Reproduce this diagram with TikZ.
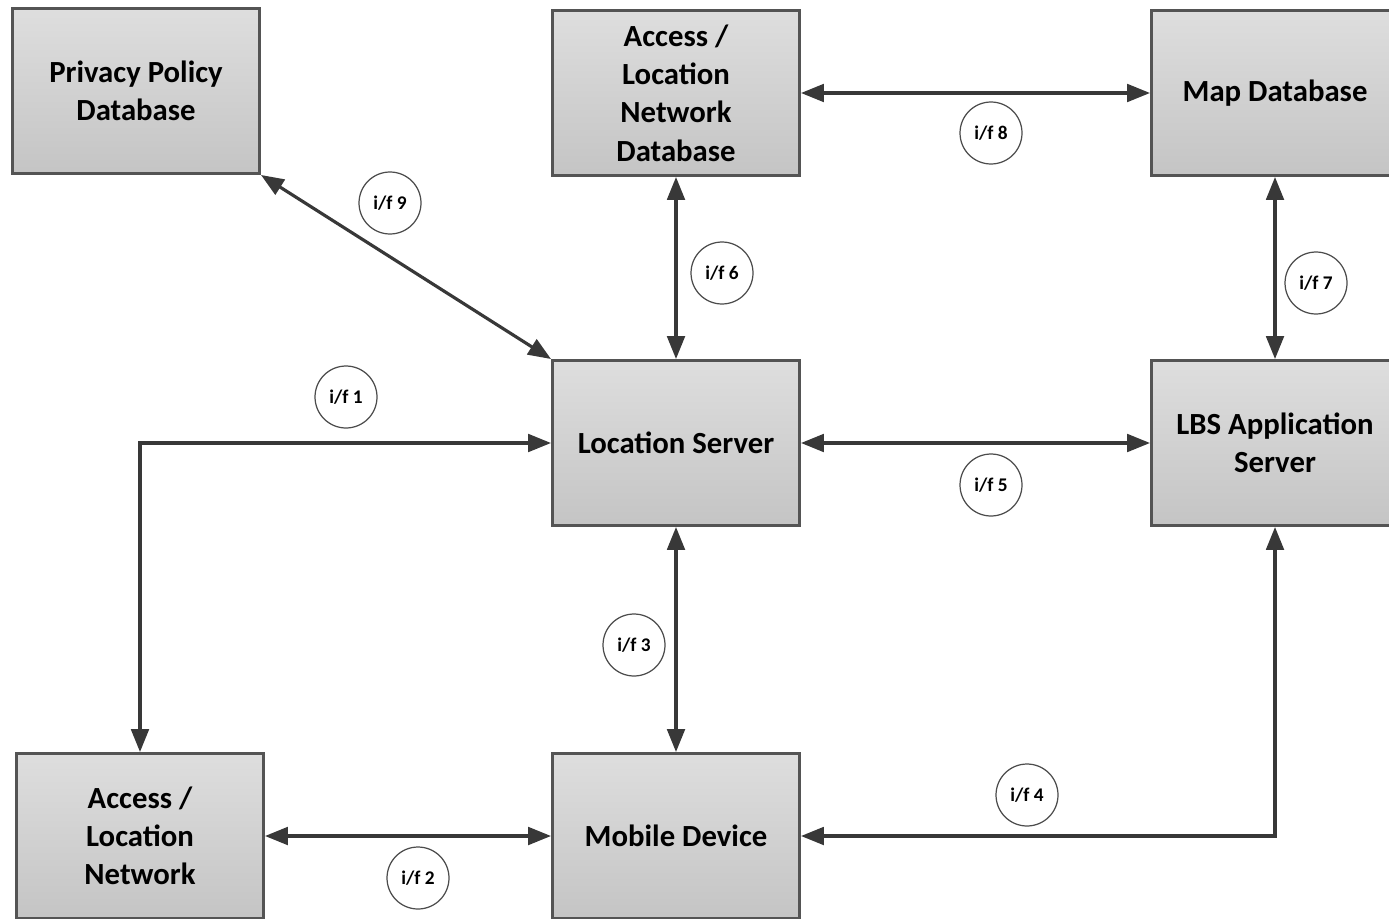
\documentclass[tikz,border=0pt]{standalone}
\usepackage{fontspec}
\setmainfont{Carlito}
\usetikzlibrary{arrows.meta}

\tikzset{
    unit/.style = {draw = black!67, line width = 1.7pt, top color = black!13, bottom color = black!23,
        minimum width = 4.94cm, minimum height = 3.3cm, align = center, inner sep = 2pt,
        font = \fontsize{17.5}{21.8}\selectfont\bfseries},
    link/.style = {draw = black!78, line width = 1.8pt, {Triangle[length = 13pt, width = 10pt]}-{Triangle[length = 13pt, width = 10pt]}},
    iface/.style = {circle, draw = black!70, line width = 0.7pt, fill = white, minimum size = 1.24cm,
        inner sep = 0pt, font = \fontsize{11}{13}\selectfont\bfseries}
}

\begin{document}
\begin{tikzpicture}[x = 0.02cm, y = -0.02cm]
        \useasboundingbox (0, 0) rectangle (1389, 919);
        % boxes
        \node [unit] (privacy) at (136, 91) {Privacy Policy\\Database};
        \node [unit] (netdb) at (676, 93) {Access /\\Location\\Network\\Database};
        \node [unit] (mapdb) at (1275, 93) {Map Database};
        \node [unit] (locserver) at (676, 443) {Location Server};
        \node [unit] (lbs) at (1275, 443) {LBS Application\\Server};
        \node [unit] (accessnet) at (140, 836) {Access /\\Location\\Network};
        \node [unit] (mobile) at (676, 836) {Mobile Device};
        % connectors
        \draw [link] (privacy.south east) -- (locserver.north west);
        \draw [link] (netdb.south) -- (locserver.north);
        \draw [link] (netdb.east) -- (mapdb.west);
        \draw [link] (mapdb.south) -- (lbs.north);
        \draw [link] (locserver.east) -- (lbs.west);
        \draw [link] (locserver.west) -| (accessnet.north);
        \draw [link] (locserver.south) -- (mobile.north);
        \draw [link] (accessnet.east) -- (mobile.west);
        \draw [link] (lbs.south) |- (mobile.east);
        % interface labels
        \node [iface] (if1) at (346, 397) {i/f 1};
        \node [iface] (if2) at (418, 878) {i/f 2};
        \node [iface] (if3) at (634, 645) {i/f 3};
        \node [iface] (if4) at (1027, 795) {i/f 4};
        \node [iface] (if5) at (991, 485) {i/f 5};
        \node [iface] (if6) at (722, 273) {i/f 6};
        \node [iface] (if7) at (1316, 283) {i/f 7};
        \node [iface] (if8) at (991, 133) {i/f 8};
        \node [iface] (if9) at (390, 203) {i/f 9};
    \end{tikzpicture}
\end{document}
